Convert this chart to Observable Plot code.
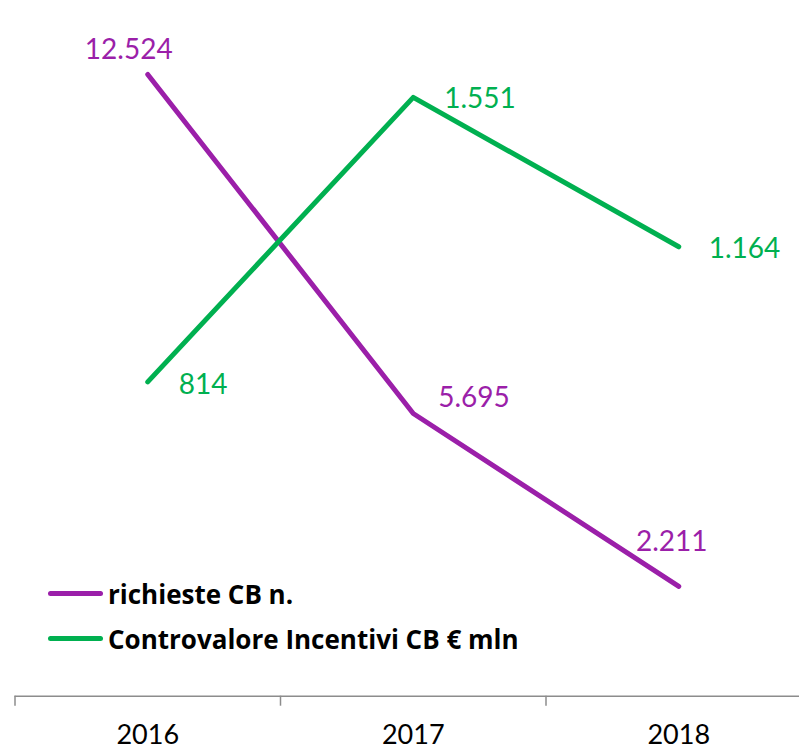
<!DOCTYPE html>
<html>
<head>
<meta charset="utf-8">
<script src="https://cdn.jsdelivr.net/npm/d3@7"></script>
<script src="https://cdn.jsdelivr.net/npm/@observablehq/plot@0.6"></script>
<style>
  html, body { margin: 0; padding: 0; background: #fff; }
  #wrap { position: relative; width: 799px; height: 749px; overflow: hidden; font-family: Lato, "Open Sans", sans-serif; }
  #legend { position: absolute; left: 48px; top: 571px; }
  .row { display: flex; align-items: center; height: 45px; }
  .sw { width: 55px; height: 5px; border-radius: 3px; margin-right: 5px; }
  .lab { font-family: "Open Sans", Lato, sans-serif; font-weight: bold; font-size: 26px; color: #000; white-space: nowrap; }
</style>
</head>
<body>
<div id="wrap"></div>
<script>
const years = [2016, 2017, 2018];
const richieste = [12524, 5695, 2211];
const controvalore = [814, 1551, 1164];
const seriesNames = ["richieste CB n.", "Controvalore Incentivi CB € mln"];
const axisMax = [14000, 1800];
const colors = ["#9b1fa9", "#00b050"];

// label placement per point (pixels): [dx, dy, anchor]
const labelPos = [
  [[-19, -24, "middle"], [25, -15, "start"], [-7, -44, "middle"]],
  [[31, 3, "start"], [31, 2, "start"], [30, 2, "start"]]
];

const fmt = v => v.toLocaleString("it-IT");

const seriesVals = [richieste, controvalore];
const rows = seriesVals.map((vals, s) => years.map((yr, i) => ({
  year: yr, value: vals[i], norm: vals[i] / axisMax[s], s, i
})));

const marks = [
  Plot.ruleY([0], {stroke: "#8c8c8c", strokeWidth: 1.5}),
  Plot.axisX({ticks: [2015.5, 2016.5, 2017.5, 2018.5], tickSize: 10, text: null, label: null, stroke: "#8c8c8c", strokeWidth: 1.5}),
  Plot.axisX({ticks: years, tickSize: 0, tickPadding: 29, label: null, tickFormat: d => String(d), fontSize: 27, fill: "#000"}),
];
rows.forEach((data, s) => {
  marks.push(Plot.line(data, {x: "year", y: "norm", stroke: colors[s], strokeWidth: 5, strokeLinecap: "round", strokeLinejoin: "round"}));
});
rows.forEach((data, s) => {
  data.forEach((d, i) => {
    const [dx, dy, anchor] = labelPos[s][i];
    marks.push(Plot.text([d], {x: "year", y: "norm", text: d => fmt(d.value), fill: colors[s], fontSize: 28, dx, dy, textAnchor: anchor}));
  });
});

const chart = Plot.plot({
  width: 799,
  height: 749,
  marginTop: 0.7,
  marginBottom: 53.3,
  marginLeft: 14.5,
  marginRight: 0,
  style: {fontFamily: "Lato, 'Open Sans', sans-serif", background: "#fff", overflow: "visible"},
  x: {domain: [2015.5, 2018.5], range: [14.5, 811], axis: null, label: null},
  y: {domain: [0, 1], axis: null, label: null},
  marks
});
const wrap = document.getElementById("wrap");
wrap.appendChild(chart);

const legend = document.createElement("div");
legend.id = "legend";
seriesNames.forEach((name, s) => {
  const row = document.createElement("div");
  row.className = "row";
  const sw = document.createElement("span");
  sw.className = "sw";
  sw.style.background = colors[s];
  const lab = document.createElement("span");
  lab.className = "lab";
  lab.textContent = name;
  row.appendChild(sw);
  row.appendChild(lab);
  legend.appendChild(row);
});
wrap.appendChild(legend);
</script>
</body>
</html>
